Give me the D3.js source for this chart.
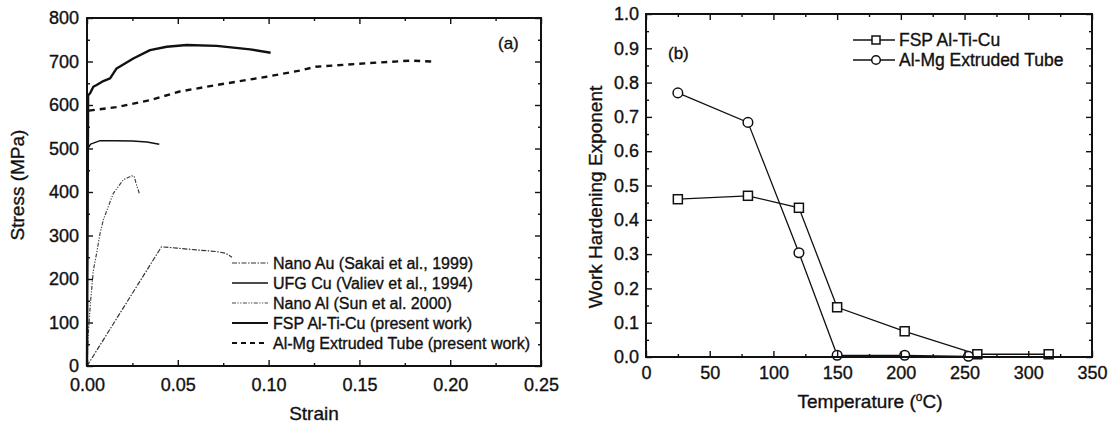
<!DOCTYPE html>
<html><head><meta charset="utf-8">
<script src="https://cdn.jsdelivr.net/npm/d3@7"></script>
<style>
body{margin:0;background:#fff;}
svg text{font-family:"Liberation Sans",Arial,Helvetica,sans-serif;fill:#111;stroke:#111;stroke-width:0.35px;}
</style></head><body>
<svg id="fig" width="1112" height="423"></svg>
<script>
// ---- (a) stress–strain curves: [strain, stress in MPa] ----
const nanoAu = [[0,0],[0.0205,137],[0.041,274],[0.0495,271],[0.06,267],[0.0714,263],[0.0765,259],[0.0798,250]];
const ufgCu = [[0,0],[0.0004,500],[0.002,510],[0.0072,518],[0.015,518],[0.025,517],[0.033,515],[0.0398,510]];
const nanoAl = [[0,0],[0.0008,80],[0.002,150],[0.0035,220],[0.0053,259],[0.0072,305],[0.009,336],[0.0145,397],[0.02,428],[0.0246,437],[0.026,436],[0.027,420],[0.0288,397]];
const fspAlTiCu = [[0,0],[0.0006,622],[0.0017,627],[0.0035,642],[0.0053,646],[0.009,655],[0.0127,661],[0.0163,684],[0.0255,707],[0.0347,726],[0.0439,734],[0.0549,738],[0.0714,736],[0.0898,728],[0.1011,720]];
const alMgTube = [[0.001,587],[0.016,595],[0.0347,611],[0.051,631],[0.0714,646],[0.0989,665],[0.117,679],[0.126,688],[0.154,696],[0.178,702],[0.1905,700]];

const seriesA = [
  {name:"Nano Au (Sakai et al., 1999)", data:nanoAu},
  {name:"UFG Cu (Valiev et al., 1994)", data:ufgCu},
  {name:"Nano Al (Sun et al. 2000)", data:nanoAl},
  {name:"FSP Al-Ti-Cu (present work)", data:fspAlTiCu},
  {name:"Al-Mg Extruded Tube (present work)", data:alMgTube}
];
const styleA = [
  {w:1.2, dash:"5,1.5,1.5,1.5", color:"#333"},
  {w:1.5, dash:null, color:"#111"},
  {w:1.2, dash:"4,1.5,1.2,1.5,1.2,1.5", color:"#444"},
  {w:2.4, dash:null, color:"#111"},
  {w:2.4, dash:"6,5", color:"#111"}
];
const strainTicks = [0, 0.05, 0.10, 0.15, 0.20, 0.25];
const stressTicks = [0, 100, 200, 300, 400, 500, 600, 700, 800];

// ---- (b) work hardening exponent vs temperature ----
const tempFsp = [25, 80, 120, 150, 203, 260, 316];
const nFsp = [0.46, 0.47, 0.435, 0.145, 0.075, 0.008, 0.008];
const tempAlMg = [25, 80, 120, 150, 203, 253];
const nAlMg = [0.77, 0.684, 0.304, 0.005, 0.005, 0.002];
const tempTicks = [0, 50, 100, 150, 200, 250, 300, 350];
const nTicks = [0, 0.1, 0.2, 0.3, 0.4, 0.5, 0.6, 0.7, 0.8, 0.9, 1.0];

const svg = d3.select("#fig");
const FONT_TICK = 18, FONT_TITLE = 19, FONT_LEG = 16, FONT_LEG_B = 17.5;

function frame(g, x, y, xMinor, yMinor, xFmt, yFmt, xPad, yPad) {
  const [x0, x1] = x.range(), [y0, y1] = y.range();
  const style = sel => {
    sel.select(".domain").remove();
    sel.selectAll(".tick line").attr("stroke", "#111").attr("stroke-width", 1.4);
    sel.selectAll("text").attr("font-size", FONT_TICK).attr("font-family", null).attr("fill", "#111");
  };
  // major + minor ticks on all four sides, pointing inward
  g.append("g").attr("transform", `translate(0,${y0})`)
    .call(d3.axisBottom(x).tickValues(x.ticksMajor).tickFormat(xFmt).tickSize(-6).tickPadding(xPad)).call(style);
  g.append("g").attr("transform", `translate(0,${y0})`)
    .call(d3.axisBottom(x).tickValues(xMinor).tickFormat("").tickSize(-3)).call(style);
  g.append("g").attr("transform", `translate(0,${y1})`)
    .call(d3.axisTop(x).tickValues(x.ticksMajor).tickFormat("").tickSize(-6)).call(style);
  g.append("g").attr("transform", `translate(0,${y1})`)
    .call(d3.axisTop(x).tickValues(xMinor).tickFormat("").tickSize(-3)).call(style);
  g.append("g").attr("transform", `translate(${x0},0)`)
    .call(d3.axisLeft(y).tickValues(y.ticksMajor).tickFormat(yFmt).tickSize(-6).tickPadding(yPad)).call(style);
  g.append("g").attr("transform", `translate(${x0},0)`)
    .call(d3.axisLeft(y).tickValues(yMinor).tickFormat("").tickSize(-3)).call(style);
  g.append("g").attr("transform", `translate(${x1},0)`)
    .call(d3.axisRight(y).tickValues(y.ticksMajor).tickFormat("").tickSize(-6)).call(style);
  g.append("g").attr("transform", `translate(${x1},0)`)
    .call(d3.axisRight(y).tickValues(yMinor).tickFormat("").tickSize(-3)).call(style);
  g.append("rect").attr("x", x0).attr("y", y1).attr("width", x1 - x0).attr("height", y0 - y1)
    .attr("fill", "none").attr("stroke", "#111").attr("stroke-width", 2);
}

// ================= panel (a) =================
const gA = svg.append("g");
const xA = d3.scaleLinear().domain([0, 0.25]).range([87, 541]);
const yA = d3.scaleLinear().domain([0, 800]).range([366, 18]);
xA.ticksMajor = strainTicks; yA.ticksMajor = stressTicks;
const lineA = d3.line().x(d => xA(d[0])).y(d => yA(d[1]));

gA.selectAll("path.curve").data(seriesA).join("path").attr("class", "curve")
  .attr("d", d => lineA(d.data)).attr("fill", "none")
  .attr("stroke", (d, i) => styleA[i].color).attr("stroke-width", (d, i) => styleA[i].w)
  .attr("stroke-dasharray", (d, i) => styleA[i].dash).attr("stroke-linejoin", "round");

frame(gA, xA, yA, d3.range(0.025, 0.25, 0.05), d3.range(50, 800, 100),
  d3.format(".2f"), d3.format("d"), 12, 8);

gA.append("text").attr("x", 314).attr("y", 420).attr("text-anchor", "middle")
  .attr("font-size", FONT_TITLE).text("Strain");
gA.append("text").attr("transform", "translate(17,185) rotate(-90)").attr("text-anchor", "middle")
  .attr("dominant-baseline", "central").attr("font-size", FONT_TITLE).text("Stress (MPa)");
gA.append("text").attr("x", 498).attr("y", 43).attr("dominant-baseline", "central")
  .attr("font-size", 17).text("(a)");

const legA = gA.append("g");
seriesA.forEach((s, i) => {
  const yy = 263 + i * 20;
  legA.append("line").attr("x1", 232).attr("x2", 268).attr("y1", yy).attr("y2", yy)
    .attr("stroke", styleA[i].color).attr("stroke-width", Math.min(styleA[i].w, 2))
    .attr("stroke-dasharray", styleA[i].dash ? (i === 4 ? "5,4" : styleA[i].dash) : null);
  legA.append("text").attr("x", 273).attr("y", yy).attr("dominant-baseline", "central")
    .attr("font-size", FONT_LEG).text(s.name);
});

// ================= panel (b) =================
const gB = svg.append("g");
const xB = d3.scaleLinear().domain([0, 350]).range([646, 1092]);
const yB = d3.scaleLinear().domain([0, 1]).range([357, 14]);
xB.ticksMajor = tempTicks; yB.ticksMajor = nTicks;

const seriesB = [
  {name:"FSP Al-Ti-Cu", t:tempFsp, n:nFsp, shape:"square"},
  {name:"Al-Mg Extruded Tube", t:tempAlMg, n:nAlMg, shape:"circle"}
];
const lineB = d3.line().x(d => xB(d[0])).y(d => yB(d[1]));

function marker(g, shape, cx, cy, s) {
  if (shape === "square") {
    g.append("rect").attr("x", cx - s).attr("y", cy - s).attr("width", 2 * s).attr("height", 2 * s)
      .attr("fill", "#fff").attr("stroke", "#111").attr("stroke-width", 1.5);
  } else {
    g.append("circle").attr("cx", cx).attr("cy", cy).attr("r", s + 0.3)
      .attr("fill", "#fff").attr("stroke", "#111").attr("stroke-width", 1.5);
  }
}

seriesB.forEach(s => {
  const pts = s.t.map((t, i) => [t, s.n[i]]);
  gB.append("path").attr("d", lineB(pts)).attr("fill", "none")
    .attr("stroke", "#111").attr("stroke-width", 1.3);
});
seriesB.forEach(s => {
  s.t.forEach((t, i) => marker(gB, s.shape, xB(t), yB(s.n[i]), 4.5));
});

frame(gB, xB, yB, d3.range(25, 350, 50), d3.range(0.05, 1, 0.1),
  d3.format("d"), d3.format(".1f"), 9, 7);

const tTitle = gB.append("text").attr("x", 870).attr("y", 408).attr("text-anchor", "middle")
  .attr("font-size", FONT_TITLE);
tTitle.append("tspan").text("Temperature (");
tTitle.append("tspan").attr("dy", -7).attr("font-size", 12).text("o");
tTitle.append("tspan").attr("dy", 7).text("C)");
gB.append("text").attr("transform", "translate(595,197) rotate(-90)").attr("text-anchor", "middle")
  .attr("dominant-baseline", "central").attr("font-size", FONT_TITLE).text("Work Hardening Exponent");
gB.append("text").attr("x", 668).attr("y", 53).attr("dominant-baseline", "central")
  .attr("font-size", 17).text("(b)");

const legB = gB.append("g");
seriesB.forEach((s, i) => {
  const yy = 40 + i * 20;
  legB.append("line").attr("x1", 853).attr("x2", 895).attr("y1", yy).attr("y2", yy)
    .attr("stroke", "#111").attr("stroke-width", 1.3);
  marker(legB, s.shape, 876, yy, 4);
  legB.append("text").attr("x", 899).attr("y", yy).attr("dominant-baseline", "central")
    .attr("font-size", FONT_LEG_B).text(s.name);
});
</script>
</body></html>
